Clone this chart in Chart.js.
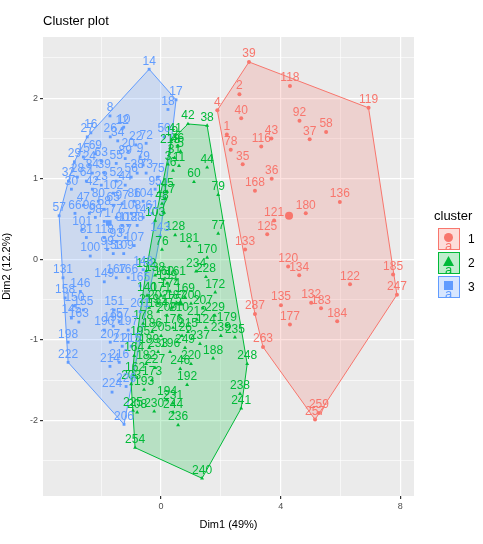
<!DOCTYPE html>
<html><head><meta charset="utf-8">
<script src="https://cdn.jsdelivr.net/npm/chart.js@4"></script>
<style>
body{margin:0;background:#fff;font-family:"Liberation Sans",Arial,sans-serif;}
#wrap{position:relative;width:483px;height:544px;}
#title{position:absolute;left:43px;top:13px;font-size:13px;color:#000;}
#leg{position:absolute;left:432px;top:208px;font-size:13px;}
.key{position:relative;width:22px;height:22px;margin-left:6px;margin-top:1px;box-sizing:border-box;border:1.5px solid;overflow:hidden;}
.kl{position:absolute;left:36px;top:4px;font-size:12px;}
.row{position:relative;height:23px;}
.a{position:absolute;left:6px;top:9px;font-size:13px;}
</style></head><body>
<div id="wrap"><canvas id="c" width="483" height="544"></canvas>
<div id="title">Cluster plot</div>
<div id="leg"><div style="margin-bottom:5px;margin-left:2px">cluster</div>
<div class="row"><div class="key" style="border-color:#F8766D;background:rgba(248,118,109,0.25)"><svg width="20" height="20" style="position:absolute;left:0;top:0"><circle cx="9.5" cy="8.5" r="4.5" fill="#F8766D"/></svg><span class="a" style="color:#F8766D">a</span></div><span class="kl">1</span></div>
<div class="row"><div class="key" style="border-color:#00BA38;background:rgba(0,186,56,0.25)"><svg width="20" height="20" style="position:absolute;left:0;top:0"><polygon points="9.5,3 15,13 4,13" fill="#00BA38"/></svg><span class="a" style="color:#00BA38">a</span></div><span class="kl">2</span></div>
<div class="row"><div class="key" style="border-color:#619CFF;background:rgba(97,156,255,0.25)"><svg width="20" height="20" style="position:absolute;left:0;top:0"><rect x="5" y="4" width="9" height="9" fill="#619CFF"/></svg><span class="a" style="color:#619CFF">a</span></div><span class="kl">3</span></div>
</div></div>
<script>
// cluster 1 (red)
const c1x=[2.94,4.31,6.94,2.62,1.88,2.68,4.63,4.97,5.52,3.69,3.35,2.2,2.33,2.73,3.7,3.14,5.98,4.84,3.78,3.55,2.81,4.25,4.62,6.32,7.76,7.89,4.01,5.02,5.35,5.89,4.31,3.14,3.41,5.28,5.15];
const c1y=[2.45,2.15,1.88,2.05,1.85,1.75,1.72,1.49,1.58,1.5,1.4,1.55,1.36,1.18,1.0,0.85,0.71,0.57,0.48,0.31,0.12,-0.09,-0.2,-0.31,-0.19,-0.44,-0.57,-0.54,-0.61,-0.77,-0.81,-0.68,-1.09,-1.91,-1.99];
const c1l=["39","118","119","2","4","40","92","37","58","43","116","1","78","35","36","168","136","180","121","125","133","120","134","122","185","247","135","132","183","184","177","287","263","259","257"];
// cluster 2 (green)
const c2x=[0.9,1.54,0.47,0.35,0.3,0.55,0.65,0.45,0.23,0.6,0.4,1.54,1.1,1.91,0.2,0.15,0.03,0.1,-0.2,0.47,1.91,0.03,0.94,1.54,1.17,1.5,1.81,-0.5,-0.2,0.1,-0.47,0.0,0.3,0.8,0.5,1.0,1.4,-0.4,-0.1,0.2,0.6,1.2,1.8,2.2,-0.6,-0.3,0.0,0.4,0.9,1.5,2.0,2.47,-0.7,-0.4,-0.1,0.3,0.8,1.3,1.74,2.88,-0.9,-0.5,-0.2,0.64,1.0,-0.87,-0.3,0.87,-0.57,-1.0,2.64,2.68,0.2,0.4,-0.23,0.4,-0.94,-0.8,0.57,1.37,-0.87,0.2,0.5,-0.1,0.7,0.35];
const c2y=[1.68,1.66,1.52,1.48,1.38,1.4,1.34,1.26,1.18,1.16,1.1,1.14,0.96,0.8,0.84,0.76,0.69,0.58,0.48,0.3,0.32,0.12,0.16,0.02,-0.15,-0.22,-0.41,-0.15,-0.2,-0.25,-0.45,-0.45,-0.4,-0.47,-0.55,-0.55,-0.61,-0.6,-0.65,-0.7,-0.7,-0.75,-0.7,-0.82,-0.8,-0.9,-0.95,-0.85,-0.9,-0.85,-0.95,-0.97,-1.0,-1.1,-1.15,-1.15,-1.1,-1.05,-1.23,-1.3,-1.2,-1.3,-1.35,-1.36,-1.3,-1.44,-1.5,-1.56,-1.62,-1.55,-1.67,-1.85,-1.75,-1.79,-1.89,-1.9,-1.88,-1.9,-2.06,-2.72,-2.34,-0.3,-0.25,-0.55,-0.95,-0.6];
const c2l=["42","38","41","19","213","46","5","31","3","11","6","44","60","79","45","117","48","7","103","128","77","76","181","170","234","228","172","152","138","160","140","171","174","169","187","200","207","219","184","209","210","212","229","179","178","186","205","176","215","124","239","235","195","189","233","196","249","237","188","248","164","182","227","246","220","162","173","192","193","203","238","241","194","231","230","244","225","208","236","240","254","159","161","202","126","175"];
// cluster 3 (blue)
const c3x=[-0.4,0.5,0.23,-1.71,-1.3,-1.25,-2.47,-2.35,-1.7,-1.45,-0.85,-0.5,0.1,-1.1,-2.9,-2.6,-2.2,-2.4,-2.0,-1.5,-1.2,-0.7,-0.6,-3.1,-2.8,-2.5,-2.3,-1.9,-1.5,-1.0,-0.8,-0.5,-0.1,-3.0,-2.3,-2.0,-1.6,-1.2,-0.9,-0.6,-0.2,-3.41,-2.88,-2.6,-2.1,-1.9,-1.6,-1.3,-1.0,-0.6,-0.3,-2.4,-2.2,-1.9,-1.5,-1.3,-1.1,-0.8,-2.64,-2.5,-1.9,-1.5,-1.2,-0.9,-2.37,-1.8,-1.6,-1.25,-3.28,-3.21,-2.7,-2.9,-2.6,-3.0,-2.75,-3.11,-3.11,-1.9,-1.5,-1.1,-0.7,-1.57,-1.9,-1.6,-1.4,-1.1,-1.7,-1.3,-1.0,-1.71,-1.4,-1.64,-1.17,-1.24,-0.7,-0.6,-0.03];
const c3y=[2.36,1.98,1.86,1.78,1.62,1.64,1.52,1.57,1.52,1.47,1.42,1.44,1.52,1.34,1.21,1.27,1.31,1.17,1.22,1.19,1.25,1.27,1.17,0.97,1.02,0.97,1.07,1.07,0.97,1.02,1.07,1.07,1.02,0.87,0.87,0.92,0.82,0.92,0.72,0.72,0.87,0.54,0.57,0.67,0.72,0.62,0.67,0.69,0.57,0.52,0.57,0.57,0.52,0.47,0.52,0.42,0.42,0.42,0.37,0.27,0.27,0.22,0.27,0.17,0.04,0.12,0.07,0.07,-0.23,-0.48,-0.4,-0.58,-0.63,-0.73,-0.78,-1.03,-1.28,-0.28,-0.23,-0.23,-0.33,-0.63,-0.88,-0.83,-0.78,-0.88,-1.03,-1.08,-1.08,-1.33,-1.28,-1.65,-1.58,-2.05,-0.65,-0.13,0.29];
const c3l=["14","17","18","8","12","10","27","16","26","34","22","72","50","20","29","15","69","24","63","55","89","9","79","32","28","64","84","39","52","56","38","73","75","30","42","23","102","44","86","104","95","57","66","47","80","58","65","97","108","147","61","96","98","71","77","90","112","88","101","81","118","93","87","107","100","99","153","109","131","158","146","150","155","145","163","198","222","149","167","166","165","151","190","199","157","197","207","211","215","214","216","224","226","206","201","148","143"];
// cluster centers
const cenX=[4.28,0.65,-1.75];
const cenY=[0.54,-0.55,0.45];
const xTicks=[-2,0,2,4,6,8];
const yTicks=[-2.5,-2,-1.5,-1,-0.5,0,0.5,1,1.5,2,2.5];
const cols=["#F8766D","#00BA38","#619CFF"];
const fills=["rgba(248,118,109,0.22)","rgba(0,186,56,0.22)","rgba(97,156,255,0.22)"];

function pts(xs,ys){return xs.map((x,i)=>({x:x,y:ys[i]}));}
function hull(p){p=p.slice().sort((a,b)=>a.x-b.x||a.y-b.y);const cr=(o,a,b)=>(a.x-o.x)*(b.y-o.y)-(a.y-o.y)*(b.x-o.x);
const lo=[],up=[];for(const q of p){while(lo.length>=2&&cr(lo[lo.length-2],lo[lo.length-1],q)<=0)lo.pop();lo.push(q);}
for(let i=p.length-1;i>=0;i--){const q=p[i];while(up.length>=2&&cr(up[up.length-2],up[up.length-1],q)<=0)up.pop();up.push(q);}
up.pop();lo.pop();return lo.concat(up);}
const groups=[pts(c1x,c1y),pts(c2x,c2y),pts(c3x,c3y)];
const labels=[c1l,c2l,c3l];
const styles=["circle","triangle","rect"];

const hullPlugin={id:'hull',beforeDatasetsDraw(ch){const {ctx,scales:{x,y}}=ch;ctx.save();
ctx.beginPath();ctx.rect(ch.chartArea.left,ch.chartArea.top,ch.chartArea.width,ch.chartArea.height);ctx.clip();
[2,1,0].forEach(g=>{const h=hull(groups[g]);ctx.beginPath();h.forEach((p,i)=>{const px=x.getPixelForValue(p.x),py=y.getPixelForValue(p.y);i?ctx.lineTo(px,py):ctx.moveTo(px,py);});
ctx.closePath();ctx.fillStyle=fills[g];ctx.fill();ctx.strokeStyle=cols[g];ctx.lineWidth=1;ctx.stroke();});ctx.restore();}};
const lblPlugin={id:'lbl',afterDatasetsDraw(ch){const {ctx,scales:{x,y}}=ch;ctx.save();ctx.font='12px "Liberation Sans", Arial';ctx.textAlign='center';ctx.textBaseline='bottom';
[0,1,2].forEach(g=>{ctx.fillStyle=cols[g];groups[g].forEach((p,i)=>{ctx.fillText(labels[g][i],x.getPixelForValue(p.x),y.getPixelForValue(p.y)-2);});});ctx.restore();}};

const ds=groups.map((d,g)=>({data:d,pointStyle:styles[g],backgroundColor:cols[g],borderColor:cols[g],pointRadius:g===1?2.3:2,borderWidth:0}));
ds.push({data:[{x:cenX[0],y:cenY[0]}],pointStyle:'circle',backgroundColor:cols[0],borderWidth:0,pointRadius:4});
ds.push({data:[{x:cenX[1],y:cenY[1]}],pointStyle:'triangle',backgroundColor:cols[1],borderWidth:0,pointRadius:4});
ds.push({data:[{x:cenX[2],y:cenY[2]}],pointStyle:'rect',backgroundColor:cols[2],borderWidth:0,pointRadius:4});

const bg={id:'bg',beforeDraw(ch){const a=ch.chartArea;ch.ctx.fillStyle='#EBEBEB';ch.ctx.fillRect(a.left,a.top,a.width,a.height);}};
new Chart(document.getElementById('c'),{type:'scatter',data:{datasets:ds},
plugins:[bg,hullPlugin,lblPlugin],
options:{responsive:false,animation:false,layout:{padding:{top:37,right:69,left:0,bottom:12}},
plugins:{legend:{display:false},tooltip:{enabled:false}},
scales:{
x:{min:-3.95,max:8.46,afterBuildTicks:s=>{s.ticks=xTicks.map(v=>({value:v}));},afterFit:s=>{s.height=36;},
grid:{color:'#fff',lineWidth:c=>(c.tick&&c.tick.value%4===0)?1.2:0.6,tickColor:c=>(c.tick&&c.tick.value%4===0)?'#333':'rgba(0,0,0,0)',tickLength:3,drawTicks:true},border:{display:false},
ticks:{color:'#4d4d4d',font:{size:9},padding:2,maxRotation:0,autoSkip:false,callback:v=>v%4===0?String(v):''},
title:{display:true,text:'Dim1 (49%)',color:'#000',font:{size:11},padding:{top:1,bottom:0}}},
y:{min:-2.94,max:2.76,afterBuildTicks:s=>{s.ticks=yTicks.map(v=>({value:v}));},afterFit:s=>{s.width=43;},
grid:{color:'#fff',lineWidth:c=>(c.tick&&Number.isInteger(c.tick.value))?1.2:0.6,tickColor:c=>(c.tick&&Number.isInteger(c.tick.value))?'#333':'rgba(0,0,0,0)',tickLength:3},border:{display:false},
ticks:{color:'#4d4d4d',font:{size:9},padding:2,autoSkip:false,callback:v=>Number.isInteger(v)?String(v):''},
title:{display:true,text:'Dim2 (12.2%)',color:'#000',font:{size:11},padding:{top:0,bottom:2}}}}}});
</script></body></html>
